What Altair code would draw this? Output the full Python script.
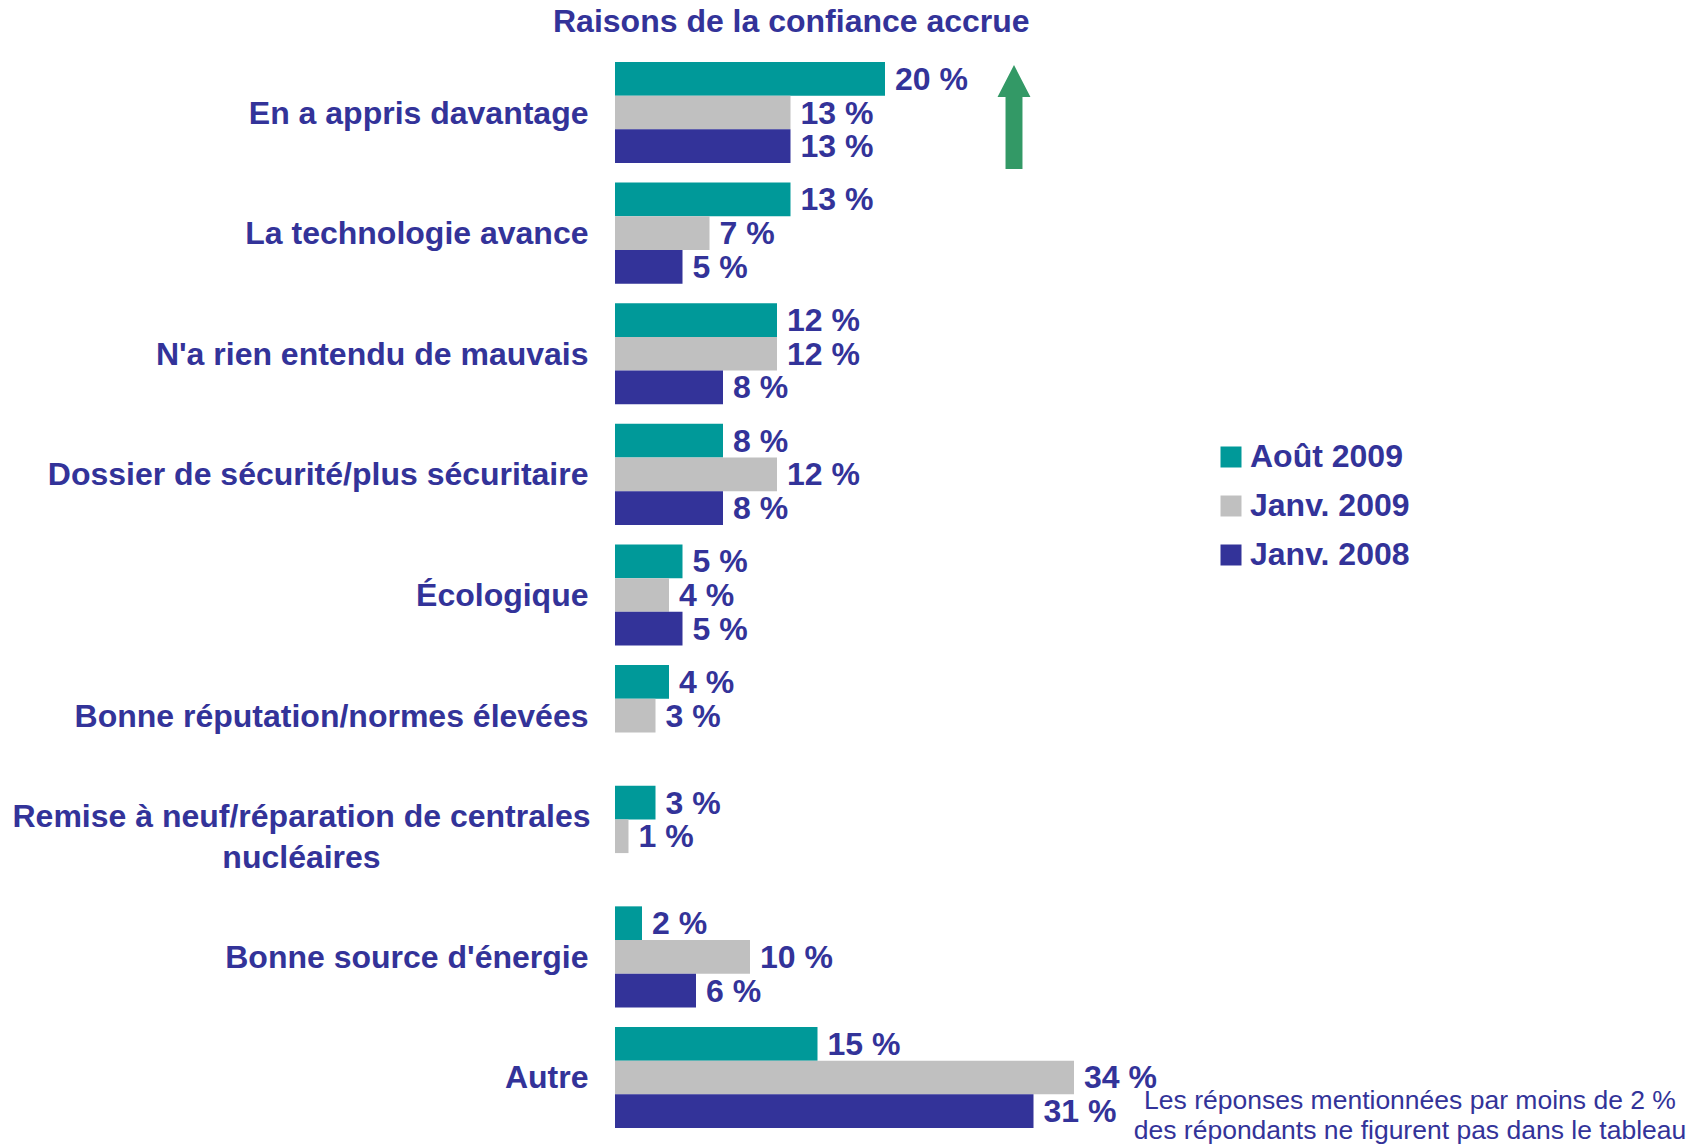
import altair as alt
import pandas as pd

categories = [
    "En a appris davantage",
    "La technologie avance",
    "N'a rien entendu de mauvais",
    "Dossier de sécurité/plus sécuritaire",
    "Écologique",
    "Bonne réputation/normes élevées",
    "Remise à neuf/réparation de centrales nucléaires",
    "Bonne source d'énergie",
    "Autre",
]
series = ["Août 2009", "Janv. 2009", "Janv. 2008"]
aout_2009 = [20, 13, 12, 8, 5, 4, 3, 2, 15]
janv_2009 = [13, 7, 12, 12, 4, 3, 1, 10, 34]
janv_2008 = [13, 5, 8, 8, 5, None, None, 6, 31]
colors = ["#009999", "#C0C0C0", "#333399"]
footnote = ["Les réponses mentionnées par moins de 2 %",
            "des répondants ne figurent pas dans le tableau"]

rows = []
for s, vals in zip(series, [aout_2009, janv_2009, janv_2008]):
    for c, v in zip(categories, vals):
        if v is not None:
            rows.append({"cat": c, "series": s, "value": v, "label": f"{v} %"})
df = pd.DataFrame(rows)

TXT = "#333399"
FONT = "Liberation Sans"
remise_test = "indexof(datum.value, 'Remise') == 0"

y_enc = alt.Y(
    "cat:N", sort=categories,
    scale=alt.Scale(paddingInner=0.1625, paddingOuter=0),
    axis=alt.Axis(
        title=None, domain=False, ticks=False, grid=False,
        labelFont=FONT, labelFontSize=32, labelFontWeight="bold", labelColor=TXT,
        labelLimit=0, labelLineHeight=41,
        labelAlign={"condition": {"test": remise_test, "value": "center"}, "value": "right"},
        labelPadding={"condition": {"test": remise_test, "value": 314}, "value": 27},
        labelOffset={"condition": {"test": remise_test, "value": -19}, "value": 1},
        labelExpr="indexof(datum.value, 'Remise') == 0 ? ['Remise à neuf/réparation de centrales', 'nucléaires'] : datum.value",
    ),
)
yoff = alt.YOffset("series:N", sort=series,
                   scale=alt.Scale(domain=series, paddingInner=0, paddingOuter=0))
x_enc = alt.X("value:Q", scale=alt.Scale(domain=[0, 80]), axis=None)

base = alt.Chart(df)
bars = base.mark_bar().encode(
    x=x_enc, y=y_enc, yOffset=yoff,
    color=alt.Color(
        "series:N", sort=series,
        scale=alt.Scale(domain=series, range=colors),
        legend=alt.Legend(
            title=None, orient="none", legendX=600, legendY=379,
            symbolType="square", symbolSize=441, symbolStrokeWidth=0,
            symbolOpacity=1,
            labelFont=FONT, labelFontSize=32, labelFontWeight="bold",
            labelColor=TXT, labelOffset=3, rowPadding=17, labelLimit=0,
        ),
    ),
)
labels = base.mark_text(
    align="left", baseline="middle", dx=10, dy=1,
    font=FONT, fontSize=32, fontWeight="bold", color=TXT,
).encode(x=x_enc, y=y_enc, yOffset=yoff, text="label:N")

arrow = alt.Chart(pd.DataFrame({"a": [1]})).mark_point(
    shape="M0,-1 L0.317,-0.385 L0.163,-0.385 L0.163,1 L-0.163,1 L-0.163,-0.385 L-0.317,-0.385 Z",
    filled=True, fill="#339966", strokeWidth=0, opacity=1, size=10816,
).encode(x=alt.value(399), y=alt.value(55))

note = alt.Chart(pd.DataFrame({"a": [1]})).mark_text(
    text=footnote, align="center", baseline="middle", lineHeight=30,
    font=FONT, fontSize=26.5, color=TXT,
).encode(x=alt.value(795), y=alt.value(1039))

chart = alt.layer(bars, labels, arrow, note).properties(
    width=1080, height=1066,
    padding={"left": 607, "top": 54, "right": 0, "bottom": 20},
    autosize=alt.AutoSizeParams(type="none"),
    title=alt.TitleParams(
        "Raisons de la confiance accrue", anchor="start", frame="group",
        dx=-62, offset=23,
        font=FONT, fontSize=32, fontWeight="bold", color=TXT,
    ),
).configure_view(stroke=None)

chart.save("out.html", embed_options={"renderer": "svg", "actions": False})
